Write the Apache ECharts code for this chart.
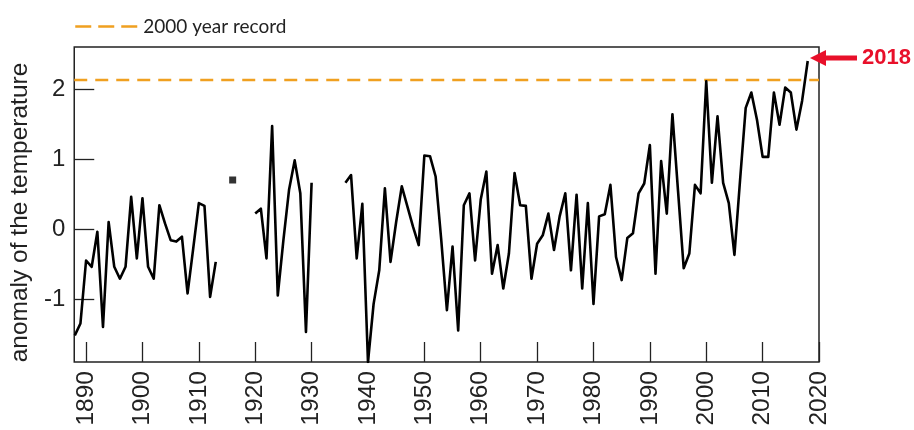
<!DOCTYPE html>
<html>
<head>
<meta charset="utf-8">
<script src="https://cdn.jsdelivr.net/npm/echarts@6/dist/echarts.min.js"></script>
<style>
html,body{margin:0;padding:0;background:#fff;}
#main{width:914px;height:430px;}
</style>
</head>
<body>
<div id="main"></div>
<script>
// ---- data ----
const firstYear = 1888;
const anomaly = [
  -1.52, -1.35, -0.45, -0.54, -0.04, -1.40, 0.10, -0.54, -0.71, -0.54,   // 1888-1897
  0.46, -0.42, 0.44, -0.54, -0.71, 0.34, 0.08, -0.16, -0.18, -0.11,      // 1898-1907
  -0.92, -0.28, 0.37, 0.33, -0.97, -0.47, null, null, 0.70, null,        // 1908-1917
  null, null, 0.22, 0.29, -0.42, 1.47, -0.95, -0.16, 0.56, 0.98,         // 1918-1927
  0.51, -1.47, 0.66, null, null, null, null, null, 0.66, 0.77,           // 1928-1937
  -0.42, 0.36, -1.90, -1.07, -0.59, 0.58, -0.47, 0.10, 0.61, 0.32,       // 1938-1947
  0.03, -0.23, 1.05, 1.04, 0.75, -0.16, -1.16, -0.25, -1.45, 0.34,       // 1948-1957
  0.51, -0.45, 0.42, 0.82, -0.64, -0.23, -0.85, -0.35, 0.80, 0.34,       // 1958-1967
  0.33, -0.71, -0.21, -0.09, 0.22, -0.30, 0.18, 0.51, -0.59, 0.49,       // 1968-1977
  -0.85, 0.37, -1.07, 0.18, 0.21, 0.63, -0.40, -0.73, -0.13, -0.06,      // 1978-1987
  0.51, 0.65, 1.20, -0.64, 0.97, 0.22, 1.64, 0.54, -0.56, -0.35,         // 1988-1997
  0.63, 0.51, 2.11, 0.66, 1.61, 0.66, 0.37, -0.37, 0.70, 1.73,           // 1998-2007
  1.95, 1.56, 1.03, 1.03, 1.95, 1.49, 2.02, 1.95, 1.42, 1.83,            // 2008-2017
  2.40                                                                   // 2018
];
const years = anomaly.map((_, i) => firstYear + i);
const recordValue = 2.13;
const recordLabel = '2000 year record';
const xTickYears = [1890, 1900, 1910, 1920, 1930, 1940, 1950, 1960, 1970, 1980, 1990, 2000, 2010, 2020];
const yTickValues = [-1, 0, 1, 2];
const highlightLabel = '2018';
const yAxisTitle = 'anomaly of the temperature';

// ---- build ----
const lineData = years.map((y, i) => [y, anomaly[i]]);
const isolated = [];
anomaly.forEach((v, i) => {
  if (v !== null && (i === 0 || anomaly[i - 1] === null) && (i === anomaly.length - 1 || anomaly[i + 1] === null)) {
    isolated.push([years[i], v]);
  }
});
const xMin = 1887.9, xMax = 2020;
const recordData = [[xMin, recordValue], [xMax, recordValue]];

const chart = echarts.init(document.getElementById('main'));
const FONT = 'Liberation Sans';
chart.setOption({
  animation: false,
  backgroundColor: '#fff',
  legend: {
    data: [recordLabel],
    left: 69, top: 12,
    itemWidth: 63, itemHeight: 14, itemGap: 6,
    itemStyle: { opacity: 0 },
    lineStyle: { type: [16, 7], width: 2.5, color: '#f0a020' },
    textStyle: { fontFamily: 'Lato', fontSize: 19, color: '#222' }
  },
  grid: {
    left: 73, right: 95, top: 47, bottom: 68,
    show: true, borderColor: '#222', borderWidth: 1.5, backgroundColor: 'transparent'
  },
  xAxis: {
    type: 'value', min: xMin, max: xMax,
    splitLine: { show: false },
    axisLine: { show: false, onZero: false },
    axisTick: { show: true, inside: true, length: 20, customValues: xTickYears, lineStyle: { color: '#222', width: 1.3 } },
    axisLabel: { customValues: xTickYears, rotate: 90, margin: 9, fontSize: 24.5, fontFamily: FONT, color: '#222',
      formatter: v => String(v) }
  },
  yAxis: {
    type: 'value', min: -1.9, max: 2.6,
    name: yAxisTitle, nameLocation: 'middle', nameGap: 30, nameRotate: 90,
    nameTextStyle: { fontFamily: FONT, fontSize: 24.5, color: '#222', padding: [0, 16, 0, 0] },
    splitLine: { show: false },
    axisLine: { show: false, onZero: false },
    axisTick: { show: true, inside: true, length: 20, customValues: yTickValues, lineStyle: { color: '#222', width: 1.3 } },
    axisLabel: { customValues: yTickValues, margin: 9, fontSize: 24, fontFamily: FONT, color: '#222' }
  },
  series: [
    {
      name: recordLabel, type: 'line', data: recordData, symbol: 'none',
      lineStyle: { color: '#f0a020', width: 2.5, type: [13, 8] },
      itemStyle: { color: '#f0a020' },
      z: 2, silent: true
    },
    {
      name: 'anomaly', type: 'line', data: lineData, symbol: 'none',
      connectNulls: false, clip: true,
      lineStyle: { color: '#000', width: 2.6, join: 'round' },
      itemStyle: { color: '#000' },
      z: 3
    },
    {
      name: 'isolated', type: 'scatter', data: isolated, symbol: 'rect', symbolSize: 7,
      itemStyle: { color: '#000' }, z: 3
    }
  ],
  graphic: [
    { type: 'polygon', shape: { points: [[810, 58], [826, 50], [826, 66]] }, style: { fill: '#e8102a' } },
    { type: 'rect', shape: { x: 824, y: 55.5, width: 33, height: 5 }, style: { fill: '#e8102a' } },
    { type: 'text', left: 862, top: 47, style: { text: highlightLabel, fill: '#e8102a', font: 'bold 22px "Liberation Sans"' } }
  ]
});
</script>
</body>
</html>
